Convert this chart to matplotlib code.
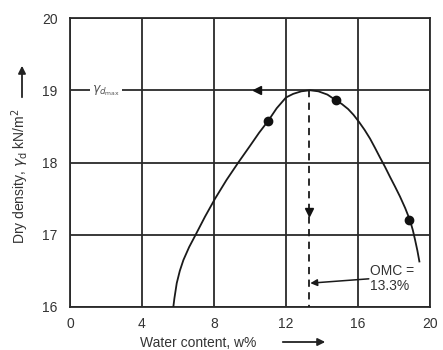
import matplotlib
matplotlib.use("Agg")
import matplotlib.pyplot as plt
from matplotlib.patches import FancyArrowPatch

plt.rcParams['font.family'] = ['Liberation Sans', 'DejaVu Sans']

# Compaction curve (water content %, dry density kN/m3)
curve_w = [5.74, 5.80, 5.93, 6.10, 6.30, 6.62, 6.98, 7.50, 8.06, 8.70, 9.35, 10.0,
           10.50, 11.02, 11.48, 12.0, 12.40, 12.85, 13.33, 13.80, 14.30, 14.78,
           15.10, 15.45, 15.75, 16.06, 16.37, 16.67, 16.95, 17.22, 17.50, 17.78,
           18.05, 18.33, 18.62, 18.89, 19.05, 19.17, 19.30, 19.41]
curve_g = [16.00, 16.12, 16.33, 16.50, 16.65, 16.83, 17.00, 17.25, 17.50, 17.76, 18.00, 18.23,
           18.41, 18.58, 18.75, 18.90, 18.95, 18.985, 19.00, 18.985, 18.94, 18.86,
           18.81, 18.74, 18.66, 18.56, 18.45, 18.33, 18.20, 18.07, 17.94, 17.80,
           17.67, 17.53, 17.37, 17.20, 17.06, 16.93, 16.78, 16.63]

# Measured points
pts_w = [11.0, 14.8, 18.85]
pts_g = [18.58, 18.87, 17.20]

omc = 13.3
gd_max = 19.0

xticks = [0, 4, 8, 12, 16, 20]
yticks = [16, 17, 18, 19, 20]

fig = plt.figure(figsize=(4.43, 3.5), dpi=100)
ax = fig.add_axes([70/443, 43/350, 360/443, 289/350])
ax.set_xlim(0, 20)
ax.set_ylim(16, 20)
ax.set_xticks(xticks)
ax.set_yticks(yticks)
ax.tick_params(length=0, labelsize=10, colors='#333333')
ax.tick_params(axis='x', pad=7)
ax.tick_params(axis='y', pad=9)
for s in ax.spines.values():
    s.set_color('#2a2a2a')
    s.set_linewidth(1.3)
ax.grid(True, color='#2a2a2a', linewidth=1.3)
ax.set_axisbelow(True)

ax.plot(curve_w, curve_g, color='#1a1a1a', linewidth=1.3, zorder=3,
        solid_joinstyle='round')
ax.plot(pts_w, pts_g, 'o', color='#111111', markersize=6, zorder=4)

# dashed vertical line at OMC
ax.plot([omc, omc], [gd_max, 16], color='#1a1a1a', linewidth=1.3, linestyle=(0, (4, 3)), zorder=3)
ax.plot([omc], [17.32], marker='v', color='#111111', markersize=6, zorder=4)
# arrow head on gamma_dmax line
ax.plot([10.4], [gd_max], marker='<', color='#111111', markersize=6, zorder=4)

ax.text(2.0, gd_max, r'$\gamma_{d_{\rm max}}$', ha='center', va='center', fontsize=9,
        color='#555555', zorder=5,
        bbox=dict(facecolor='white', edgecolor='none', pad=1.5))

ax.text(16.65, 16.40, 'OMC =\n13.3%', ha='left', va='center', fontsize=10,
        color='#333333', linespacing=1.1, zorder=5)
ax.annotate('', xy=(omc + 0.05, 16.33), xytext=(16.6, 16.39),
            arrowprops=dict(arrowstyle='-|>', color='#1a1a1a', lw=1.1,
                            mutation_scale=10, shrinkA=0, shrinkB=0), zorder=5)

# axis labels with arrows
fig.text(140/443, 1 - 343/350, 'Water content, w%', ha='left', va='center',
         fontsize=10, color='#333333')
fig.patches.append(FancyArrowPatch(
    (280/443, 1 - 342/350), (328/443, 1 - 342/350), transform=fig.transFigure,
    arrowstyle='-|>', mutation_scale=11, color='#222222', lw=1.3))

fig.text(20/443, 1 - 176/350, r'Dry density, $\gamma_{\rm d}$ kN/m$^2$', ha='center', va='center',
         rotation=90, fontsize=10, color='#333333')
fig.patches.append(FancyArrowPatch(
    (22/443, 1 - 100/350), (22/443, 1 - 63/350), transform=fig.transFigure,
    arrowstyle='-|>', mutation_scale=11, color='#222222', lw=1.3))

fig.savefig('out.png', dpi=100)
